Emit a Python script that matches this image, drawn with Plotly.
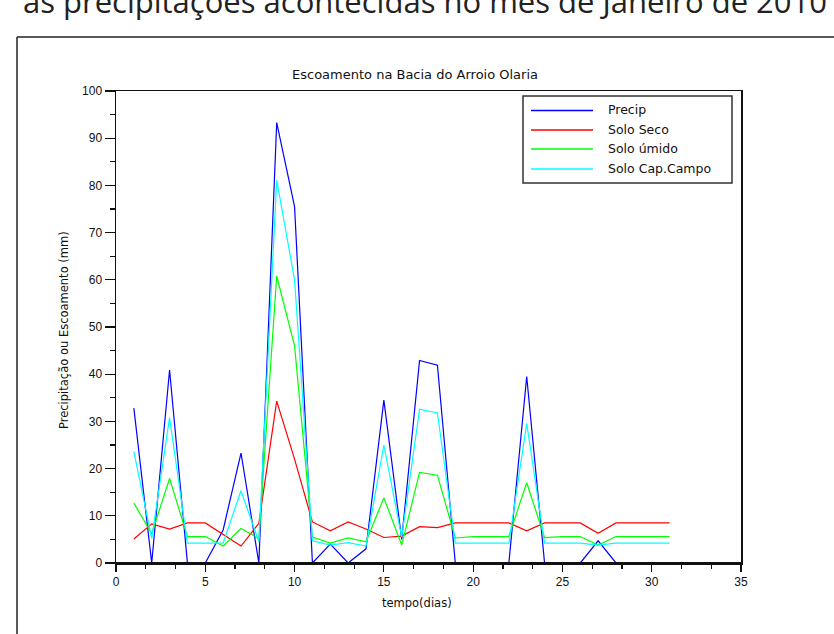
import plotly.graph_objects as go

dias = list(range(1, 32))
precip = [32.8, 0, 40.9, 0, 0, 7, 23.3, 0, 93.3, 75.5, 0, 4, 0, 3, 34.5, 5, 42.9, 41.9,
          0, 0, 0, 0, 39.5, 0, 0, 0, 4.7, 0, 0, 0, 0]
solo_seco = [5.1, 8.3, 7.2, 8.5, 8.5, 6, 3.6, 8.4, 34.3, 22, 8.7, 6.8, 8.7, 7.2, 5.4, 5.7,
             7.7, 7.5, 8.5, 8.5, 8.5, 8.5, 6.8, 8.5, 8.5, 8.5, 6.3, 8.5, 8.5, 8.5, 8.5]
solo_umido = [12.7, 6.2, 17.9, 5.6, 5.6, 3.6, 7.3, 5.2, 60.8, 46, 5.5, 4.2, 5.3, 4.5, 13.8, 3.8,
              19.2, 18.6, 5.3, 5.6, 5.6, 5.6, 17.0, 5.4, 5.6, 5.6, 3.8, 5.6, 5.6, 5.6, 5.6]
solo_cap = [23.6, 5.2, 30.8, 4.2, 4.2, 4.2, 15.3, 4.5, 81.1, 60, 4.7, 3.8, 4.3, 3.6, 25, 5.5,
            32.6, 31.8, 4.2, 4.2, 4.2, 4.2, 29.6, 4.2, 4.2, 4.2, 3.8, 4.2, 4.2, 4.2, 4.2]

series = [("Precip", precip, "#0000ff"),
          ("Solo Seco", solo_seco, "#ff0000"),
          ("Solo úmido", solo_umido, "#00ff00"),
          ("Solo Cap.Campo", solo_cap, "#00ffff")]

W, H = 834, 634
L, R, T, B = 116, 741, 91, 563
PW, PH = R - L, B - T


def px(x):
    return (x - L) / PW


def py(y):
    return (B - y) / PH


fig = go.Figure()
for name, vals, col in series:
    fig.add_trace(go.Scatter(x=dias, y=vals, mode="lines", name=name,
                             line=dict(color=col, width=1.2), showlegend=False,
                             hoverinfo="skip"))

shapes = []
annotations = []

# outer frame (left and top border of the surrounding box)
shapes.append(dict(type="line", xref="paper", yref="paper", x0=px(17), x1=px(17),
                   y0=py(37), y1=py(640), line=dict(color="#222", width=1.5)))
shapes.append(dict(type="line", xref="paper", yref="paper", x0=px(17), x1=px(840),
                   y0=py(37), y1=py(37), line=dict(color="#222", width=1.5)))
# bottom axis line drawn above the traces (covers values lying on zero)
shapes.append(dict(type="line", xref="paper", yref="paper", x0=0, x1=1, y0=0, y1=0,
                   layer="above", line=dict(color="#111", width=2)))

# legend box
shapes.append(dict(type="rect", xref="paper", yref="paper", x0=px(523), x1=px(732),
                   y0=py(96), y1=py(183), line=dict(color="#333", width=1.5),
                   fillcolor="white"))
rows = [110.5, 130, 149, 169]
for (name, vals, col), ry in zip(series, rows):
    shapes.append(dict(type="line", xref="paper", yref="paper", x0=px(531), x1=px(593),
                       y0=py(ry), y1=py(ry), line=dict(color=col, width=1.5)))
    annotations.append(dict(xref="paper", yref="paper", x=px(606), y=py(ry - 1),
                            xanchor="left", yanchor="middle", showarrow=False,
                            text=name, font=dict(family="DejaVu Sans", size=12.5, color="#111")))

# clipped heading text at the very top
annotations.append(dict(xref="paper", yref="paper", x=px(21), y=py(24),
                        xanchor="left", yanchor="bottom", showarrow=False,
                        text="as precipitações acontecidas no mês de Janeiro de 2010",
                        font=dict(family="Open Sans", size=31, color="#222")))

# chart title
annotations.append(dict(xref="paper", yref="paper", x=px(415), y=py(74),
                        xanchor="center", yanchor="middle", showarrow=False,
                        text="Escoamento na Bacia do Arroio Olaria",
                        font=dict(family="DejaVu Sans", size=13, color="#111")))
# axis titles
annotations.append(dict(xref="paper", yref="paper", x=px(417), y=py(603),
                        xanchor="center", yanchor="middle", showarrow=False,
                        text="tempo(dias)",
                        font=dict(family="DejaVu Sans", size=11.5, color="#111")))
annotations.append(dict(xref="paper", yref="paper", x=px(64), y=py(330),
                        xanchor="center", yanchor="middle", showarrow=False, textangle=-90,
                        text="Precipitação ou Escoamento (mm)",
                        font=dict(family="DejaVu Sans", size=11.5, color="#111")))

fig.update_layout(
    width=W, height=H,
    margin=dict(l=L, r=W - R, t=T, b=H - B, pad=0),
    paper_bgcolor="white", plot_bgcolor="white",
    shapes=shapes, annotations=annotations,
    font=dict(family="Liberation Sans", size=12, color="#111"),
    hovermode=False,
)
fig.update_xaxes(range=[0, 35], dtick=5, tick0=0, showgrid=False, zeroline=False,
                 showline=True, linecolor="#111", linewidth=1.5, mirror=True,
                 ticks="outside", ticklen=7, tickwidth=1.2, tickcolor="#111",
                 minor=dict(dtick=5 / 3, tick0=0, ticks="outside", ticklen=4,
                            tickcolor="#111", showgrid=False),
                 tickfont=dict(family="Liberation Sans", size=12, color="#111"))
fig.update_yaxes(range=[0, 100], dtick=10, tick0=0, showgrid=False, zeroline=False,
                 showline=True, linecolor="#111", linewidth=1.5, mirror=True,
                 ticks="outside", ticklen=10, tickwidth=1.2, tickcolor="#111",
                 minor=dict(dtick=5, tick0=0, ticks="outside", ticklen=5,
                            tickcolor="#111", showgrid=False),
                 tickfont=dict(family="Liberation Sans", size=12, color="#111"))

fig.write_html("out.html", config={"displayModeBar": False, "staticPlot": True},
               post_script="document.body.style.margin='0px';document.body.style.overflow='hidden';")
